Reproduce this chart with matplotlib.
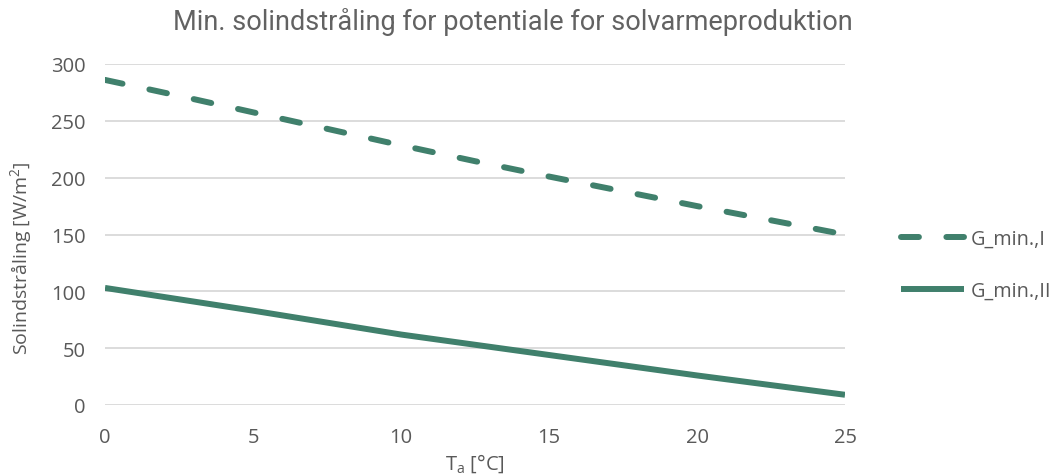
import matplotlib
matplotlib.use("Agg")
import matplotlib.pyplot as plt

# DATA

temp = [0, 2.5, 5, 7.5, 10, 12.5, 15, 17.5, 20, 22.5, 25]
g_min_1 = [286, 272, 257.5, 243, 228.5, 214.5, 201, 188, 175, 162.5, 150]
g_min_2 = [103, 93, 83, 72.5, 62, 53, 44, 35, 26, 17.5, 9]
yticks = [0, 50, 100, 150, 200, 250, 300]
xticks = [0, 5, 10, 15, 20, 25]

# STYLE

plt.rcParams["font.family"] = ["Open Sans", "DejaVu Sans"]
plt.rcParams["mathtext.fontset"] = "custom"
plt.rcParams["mathtext.rm"] = "Open Sans"
plt.rcParams["mathtext.it"] = "Open Sans"
green = "#40806c"
grey = "#595959"

fig = plt.figure(figsize=(10.56, 4.77), dpi=100)
ax = fig.add_axes([105 / 1056, 1 - 406 / 477, 740 / 1056, 341 / 477])

# PLOT

ax.plot(temp, g_min_1, color=green, lw=4.3, linestyle=(0, (3.0, 4.6)),
        dash_capstyle="round", label="G_min.,I", zorder=3)
ax.plot(temp, g_min_2, color=green, lw=4.3, solid_capstyle="butt",
        label="G_min.,II", zorder=3)

ax.set_xlim(0, 25)
ax.set_ylim(0, 300)
ax.set_xticks(xticks)
ax.set_yticks(yticks)
ax.grid(axis="y", color="#d9d9d9", lw=1.3)
ax.set_axisbelow(True)
for s in ax.spines.values():
    s.set_visible(False)
ax.tick_params(length=0, labelsize=14.5, labelcolor=grey)
ax.tick_params(axis="x", pad=16)
ax.tick_params(axis="y", pad=14)

ax.set_xlabel("T$_{\\rm a}$ [°C]", fontsize=14.5, color=grey, labelpad=3)
ax.set_ylabel("Solindstråling [W/m$^{\\rm 2}$]", fontsize=14, color=grey)
ax.yaxis.set_label_coords(-0.096, 0.434)

fig.text(513 / 1056, 1 - 22 / 477, "Min. solindstråling for potentiale for solvarmeproduktion",
         ha="center", va="center", fontsize=19.5, color="#626262",
         family=["Roboto", "DejaVu Sans"])

leg = ax.legend(loc="center left", bbox_to_anchor=(883 / 1056, 1 - 266 / 477),
                bbox_transform=fig.transFigure, frameon=False, fontsize=14.3,
                handlelength=3.2, handletextpad=0.3, labelspacing=1.6, labelcolor=grey)

fig.savefig("out.png", dpi=100)
